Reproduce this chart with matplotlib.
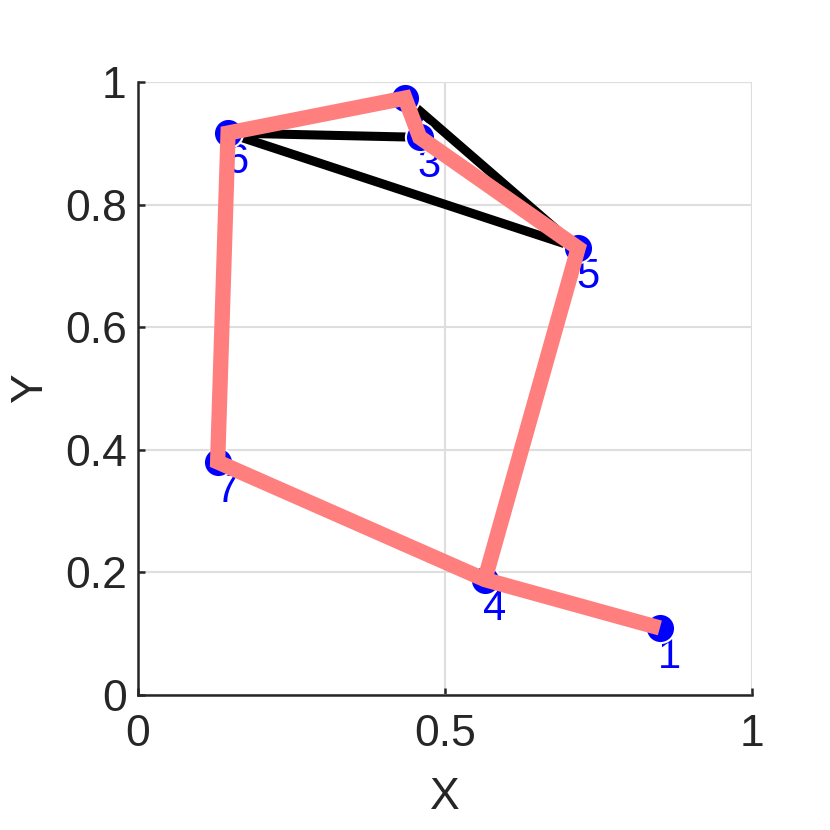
import matplotlib.pyplot as plt

plt.rcParams["font.family"] = ["Liberation Sans", "DejaVu Sans"]

# node coordinates (node ids 1..7)
node_ids = [1, 2, 3, 4, 5, 6, 7]
node_x = [0.850, 0.435, 0.459, 0.565, 0.717, 0.147, 0.130]
node_y = [0.109, 0.974, 0.910, 0.188, 0.729, 0.917, 0.380]

# black edges (pairs of node ids)
black_edges = [(6, 3), (6, 5), (2, 5)]
# highlighted path (node ids in order)
pink_path = [1, 4, 7, 6, 2, 3, 5, 4]

x_ticks = [0, 0.5, 1]
x_tick_labels = ["0", "0.5", "1"]
y_ticks = [0, 0.2, 0.4, 0.6, 0.8, 1]
y_tick_labels = ["0", "0.2", "0.4", "0.6", "0.8", "1"]

TXT = "#262626"

pos = {n: (x, y) for n, x, y in zip(node_ids, node_x, node_y)}

fig = plt.figure(figsize=(8.3, 8.3), dpi=100)
ax = fig.add_axes([0.166, 0.163, 0.740, 0.738])

for a, b in black_edges:
    ax.plot([pos[a][0], pos[b][0]], [pos[a][1], pos[b][1]],
            color="black", linewidth=6.5, solid_capstyle="butt", zorder=2)

ax.plot(node_x, node_y, linestyle="none", marker="o", markersize=21,
        markerfacecolor="#0000FF", markeredgecolor="white",
        markeredgewidth=1.5, zorder=3)

for n in node_ids:
    ax.annotate(str(n), xy=pos[n], xytext=(-2, -9), textcoords="offset pixels",
                ha="left", va="top", fontsize=30, color="#0000FF", zorder=1.5)

px = [pos[n][0] for n in pink_path]
py = [pos[n][1] for n in pink_path]
ax.plot(px, py, color="#FF7F7F", linewidth=11, solid_joinstyle="miter",
        solid_capstyle="butt", zorder=4)

ax.set_xlim(0, 1)
ax.set_ylim(0, 1)
ax.set_xticks(x_ticks)
ax.set_xticklabels(x_tick_labels)
ax.set_yticks(y_ticks)
ax.set_yticklabels(y_tick_labels)
ax.tick_params(direction="in", length=5, width=1.8, colors=TXT,
               labelsize=32, pad=8)
ax.tick_params(axis="x", pad=14)
ax.set_xlabel("X", fontsize=32, color=TXT, labelpad=16)
ax.set_ylabel("Y", fontsize=32, color=TXT, labelpad=10)

for side in ("top", "right"):
    ax.spines[side].set_visible(False)
for side in ("left", "bottom"):
    ax.spines[side].set_linewidth(1.8)
    ax.spines[side].set_color(TXT)

ax.grid(color="#DEDEDE", linewidth=1.5)
ax.set_axisbelow(True)
ax.axhline(1, color="#DEDEDE", linewidth=1.5, zorder=0)
ax.axvline(1, color="#DEDEDE", linewidth=1.5, zorder=0)

fig.savefig("out.png", dpi=100)
